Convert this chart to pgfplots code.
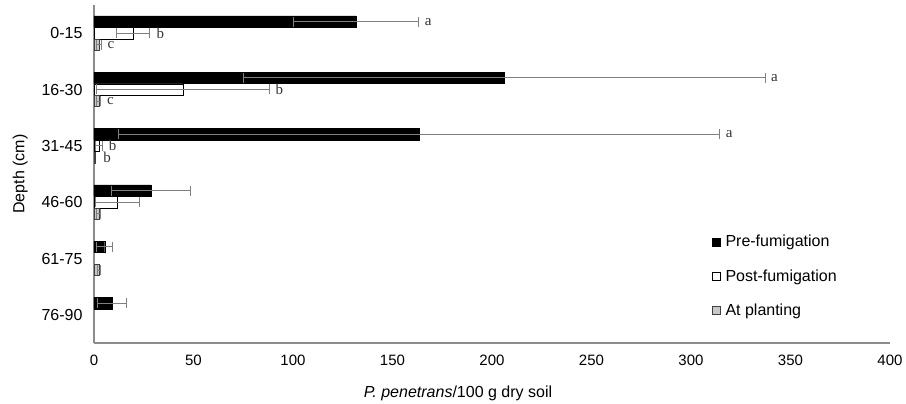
\documentclass[border=0pt]{standalone}
\usepackage{pgfplots}
\pgfplotsset{compat=1.18}
\usepackage{fontspec}
\setmainfont{Liberation Sans}
\newfontfamily\seriffont{Liberation Serif}
\definecolor{axgray}{HTML}{8C8C8C}
\definecolor{errgray}{HTML}{808080}
\definecolor{plantgray}{HTML}{C8C8C8}
\begin{document}
\begin{tikzpicture}
\useasboundingbox (0,0) rectangle (906pt,404pt);
\begin{axis}[
  at={(94pt,61pt)}, anchor=south west,
  scale only axis, width=796pt, height=338pt,
  xmin=0, xmax=400, ymin=-0.5, ymax=5.5,
  xtick={0,50,...,400},
  ytick={0,1,2,3,4,5},
  yticklabels={76-90,61-75,46-60,31-45,16-30,0-15},
  axis x line*=bottom, axis y line*=left,
  axis line style={-, draw=axgray, line width=1.2pt},
  major tick length=0pt,
  /pgf/number format/assume math mode=true,
  tick label style={font=\fontsize{15}{18}\selectfont},
  xticklabel style={yshift=-8pt},
  yticklabel style={xshift=-8pt, font=\fontsize{16}{19}\selectfont},
  xlabel={\textit{P. penetrans}/100 g dry soil},
  ylabel={Depth (cm)},
  label style={font=\fontsize{16}{19}\selectfont},
  xlabel style={yshift=-14pt, xshift=-34pt},
  ylabel style={yshift=7pt},
  bar width=0.2,
  legend style={draw=none, fill=none, at={(0.774,0.331)}, anchor=north west,
    row sep=17pt, inner sep=2pt, font=\fontsize{16}{19}\selectfont},
  legend cell align=left,
  legend image code/.code={\draw[#1] (0pt,-4pt) rectangle (8pt,4pt); \path[draw=none,fill=none] (0pt,0pt) -- (11pt,0pt);},
  error bars/x dir=both, error bars/x explicit,
  error bars/error mark=|,
  error bars/error bar style={draw=errgray, line width=1pt},
  error bars/error mark options={draw=errgray, mark size=5pt, line width=1pt},
]
\addplot[xbar, bar shift=0, fill=black, draw=black] coordinates {
  (131.7,5.205) +- (31.5,0)
  (206.2,4.205) +- (131,0)
  (163.3,3.205) +- (151,0)
  (28.6,2.205) +- (20,0)
  (5.4,1.205) +- (4,0)
  (9,0.205) +- (7.2,0)
};
\addlegendentry{Pre-fumigation}
\addplot[xbar, bar shift=0, fill=white, draw=black] coordinates {
  (19.7,5) +- (8.4,0)
  (44.6,4) +- (43.5,0)
  (2.7,3) +- (1.7,0)
  (11.9,2) +- (11,0)
};
\addlegendentry{Post-fumigation}
\addplot[xbar, bar shift=0, fill=plantgray, draw=black!75] coordinates {
  (2.5,4.795) +- (1.2,0)
  (2.5,3.795) +- (1,0)
  (2.5,1.795) +- (1,0)
  (2.5,0.795) +- (0.9,0)
};
\addlegendentry{At planting}
\addplot[xbar, bar shift=0, fill=plantgray, draw=black!75, forget plot,
  error bars/x dir=none] coordinates {(0.8,2.795)};
\addplot[only marks, mark=none, forget plot, error bars/x dir=none,
  nodes near coords, point meta=explicit symbolic,
  every node near coord/.style={anchor=west, inner sep=0pt, xshift=6pt,
    font=\seriffont\fontsize{15}{18}\selectfont, text=black!80}]
  table[meta=l] {
x y l
163.2 5.205 a
337.2 4.205 a
314.4 3.205 a
28.3 5 b
88.1 4 b
4.4 3 b
3.7 4.795 c
3.5 3.795 c
1.6 2.795 b
};
\end{axis}
\end{tikzpicture}
\end{document}
